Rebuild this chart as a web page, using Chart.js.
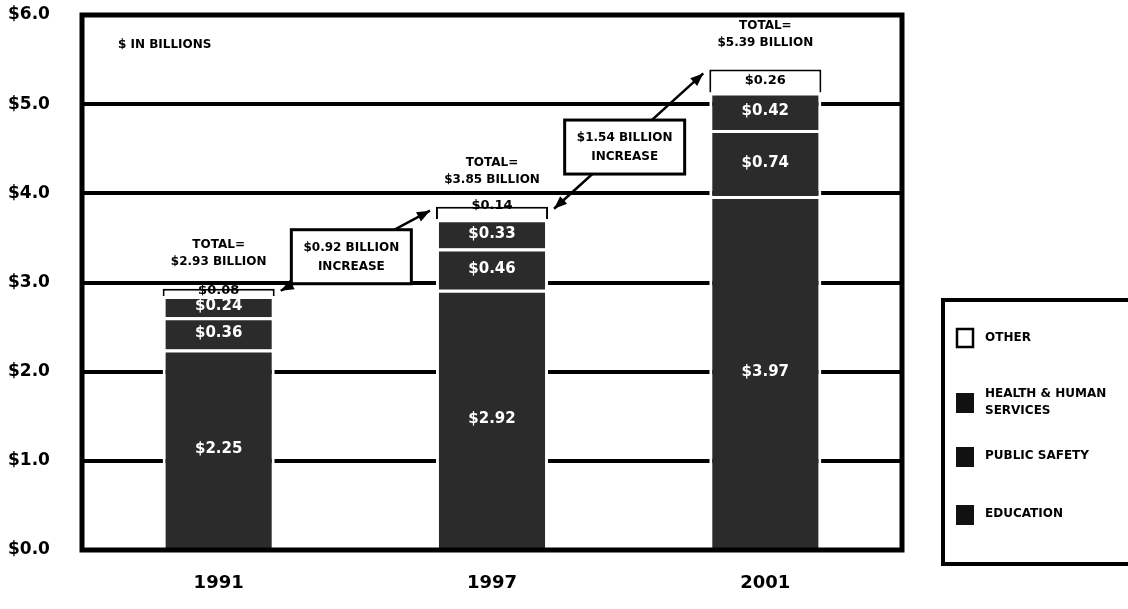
<!DOCTYPE html>
<html>
<head>
<meta charset="utf-8">
<script src="https://cdn.jsdelivr.net/npm/chart.js@4/dist/chart.umd.min.js"></script>
<style>
  body { margin: 0; background: #fff; }
  #wrap { width: 1128px; height: 609px; position: relative; }
</style>
</head>
<body>
<div id="wrap"><canvas id="budgetChart"></canvas></div>
<script>
// categories and series (in $ billions)
var years = ['1991', '1997', '2001'];
var education = [2.25, 2.92, 3.97];
var publicSafety = [0.36, 0.46, 0.74];
var healthHuman = [0.24, 0.33, 0.42];
var other = [0.08, 0.14, 0.26];
var totals = ['$2.93', '$3.85', '$5.39'];
var increases = ['$0.92', '$1.54'];
var seriesNames = ['EDUCATION', 'PUBLIC SAFETY', 'HEALTH & HUMAN SERVICES', 'OTHER'];
var yTicks = [0, 1, 2, 3, 4, 5, 6];

var FONT = '"DejaVu Sans", "Liberation Sans", Arial, sans-serif';
var DARK = '#2b2b2b';

// value labels, totals, arrows, frame and legend box
var annotations = {
    id: 'annotations',
    afterDatasetsDraw: function(chart) {
        var ctx = chart.ctx;
        var area = chart.chartArea;
        ctx.save();

        // segment values
        chart.data.datasets.forEach(function(ds, di) {
            var meta = chart.getDatasetMeta(di);
            meta.data.forEach(function(bar, j) {
                var cy = (bar.y + bar.base) / 2;
                ctx.font = 'bold 15px ' + FONT;
                ctx.textAlign = 'center';
                ctx.textBaseline = 'middle';
                if (di === 3) {
                    ctx.fillStyle = '#000';
                    ctx.font = 'bold 13px ' + FONT;
                    if (j === 1) cy -= 7;
                    if (j === 0) cy -= 2;
                } else {
                    ctx.fillStyle = '#fff';
                }
                ctx.fillText('$' + ds.data[j].toFixed(2), bar.x, cy);
            });
        });

        // totals above bars
        var topMeta = chart.getDatasetMeta(3);
        ctx.fillStyle = '#000';
        ctx.font = 'bold 12px ' + FONT;
        topMeta.data.forEach(function(bar, j) {
            ctx.fillText('TOTAL=', bar.x, bar.y - 44);
            ctx.fillText(totals[j] + ' BILLION', bar.x, bar.y - 27);
        });

        // increase arrows with boxes
        for (var k = 0; k < increases.length; k++) {
            var a = topMeta.data[k], b = topMeta.data[k + 1];
            var x1 = a.x + a.width / 2 + 6, y1 = a.y + 2;
            var x2 = b.x - b.width / 2 - 6, y2 = b.y + 4;
            ctx.strokeStyle = '#000';
            ctx.lineWidth = 2.5;
            ctx.beginPath();
            ctx.moveTo(x1, y1);
            ctx.lineTo(x2, y2);
            ctx.stroke();
            drawHead(ctx, x2, y2, x1, y1);
            drawHead(ctx, x1, y1, x2, y2);

            var mx = (x1 + x2) / 2 - 4, my = (y1 + y2) / 2 + 6;
            var bw = 120, bh = 54;
            ctx.fillStyle = '#fff';
            ctx.fillRect(mx - bw / 2, my - bh / 2, bw, bh);
            ctx.lineWidth = 3;
            ctx.strokeRect(mx - bw / 2, my - bh / 2, bw, bh);
            ctx.fillStyle = '#000';
            ctx.font = 'bold 12px ' + FONT;
            ctx.fillText(increases[k] + ' BILLION', mx, my - 9);
            ctx.fillText('INCREASE', mx, my + 10);
        }

        // unit note
        ctx.textAlign = 'left';
        ctx.font = 'bold 12px ' + FONT;
        ctx.fillText('$ IN BILLIONS', area.left + 36, 45);

        // plot frame
        ctx.lineWidth = 5;
        ctx.strokeStyle = '#000';
        ctx.strokeRect(area.left, area.top, area.right - area.left, area.bottom - area.top);

        // legend
        var lx = 943, ly = 300;
        ctx.lineWidth = 4;
        ctx.strokeRect(lx, ly, 200, 264);
        var order = [3, 2, 1, 0];
        var rowY = [338, 402, 456, 514];
        order.forEach(function(di, r) {
            var y = rowY[r];
            if (di === 3) {
                ctx.fillStyle = '#fff';
                ctx.fillRect(lx + 14, y - 9, 16, 18);
                ctx.lineWidth = 2.5;
                ctx.strokeRect(lx + 14, y - 9, 16, 18);
            } else {
                ctx.fillStyle = '#111';
                ctx.fillRect(lx + 13, y - 9, 18, 20);
            }
            ctx.fillStyle = '#000';
            ctx.font = 'bold 12px ' + FONT;
            ctx.textAlign = 'left';
            var lines = wrap(ctx, seriesNames[di], 145);
            var start = y - (lines.length - 1) * 8;
            lines.forEach(function(t, i) {
                ctx.fillText(t, lx + 42, start + i * 17);
            });
        });

        ctx.restore();
    }
};

function drawHead(ctx, x, y, fx, fy) {
    var ang = Math.atan2(y - fy, x - fx);
    var len = 14, spread = 0.38;
    ctx.beginPath();
    ctx.moveTo(x, y);
    ctx.lineTo(x - len * Math.cos(ang - spread), y - len * Math.sin(ang - spread));
    ctx.lineTo(x - len * Math.cos(ang + spread), y - len * Math.sin(ang + spread));
    ctx.closePath();
    ctx.fillStyle = '#000';
    ctx.fill();
}

function wrap(ctx, text, maxW) {
    var words = text.split(' ');
    var lines = [], cur = '';
    words.forEach(function(w) {
        var test = cur ? cur + ' ' + w : w;
        if (ctx.measureText(test).width > maxW && cur) {
            lines.push(cur);
            cur = w;
        } else {
            cur = test;
        }
    });
    lines.push(cur);
    return lines;
}

var darkSet = function(label, data) {
    return {
        label: label,
        data: data,
        backgroundColor: DARK,
        borderColor: '#fff',
        borderWidth: 3,
        borderSkipped: 'bottom'
    };
};

var ctx = document.getElementById('budgetChart').getContext('2d');
new Chart(ctx, {
    type: 'bar',
    data: {
        labels: years,
        datasets: [
            darkSet(seriesNames[0], education),
            darkSet(seriesNames[1], publicSafety),
            darkSet(seriesNames[2], healthHuman),
            {
                label: seriesNames[3],
                data: other,
                backgroundColor: '#fff',
                borderColor: '#000',
                borderWidth: 2,
                borderSkipped: 'bottom'
            }
        ]
    },
    options: {
        responsive: true,
        maintainAspectRatio: false,
        animation: false,
        layout: { padding: { top: 15, right: 226, bottom: 16, left: 8 } },
        datasets: { bar: { barPercentage: 0.41, categoryPercentage: 1 } },
        plugins: {
            legend: { display: false },
            tooltip: { enabled: false }
        },
        scales: {
            x: {
                stacked: true,
                grid: { display: false },
                border: { display: false },
                afterFit: function(scale) { scale.height = 43; },
                ticks: { color: '#000', font: { family: FONT, size: 18, weight: 'bold' }, padding: 15 }
            },
            y: {
                stacked: true,
                min: 0,
                max: 6,
                afterFit: function(scale) { scale.width = 74; },
                afterBuildTicks: function(scale) {
                    scale.ticks = yTicks.map(function(v) { return { value: v }; });
                },
                grid: { color: '#000', lineWidth: 4, drawTicks: false },
                border: { display: false },
                ticks: {
                    color: '#000',
                    padding: 0,
                    crossAlign: 'far',
                    font: { family: FONT, size: 17, weight: 'bold' },
                    callback: function(v) { return '$' + Number(v).toFixed(1); }
                }
            }
        }
    },
    plugins: [annotations]
});
</script>
</body>
</html>
